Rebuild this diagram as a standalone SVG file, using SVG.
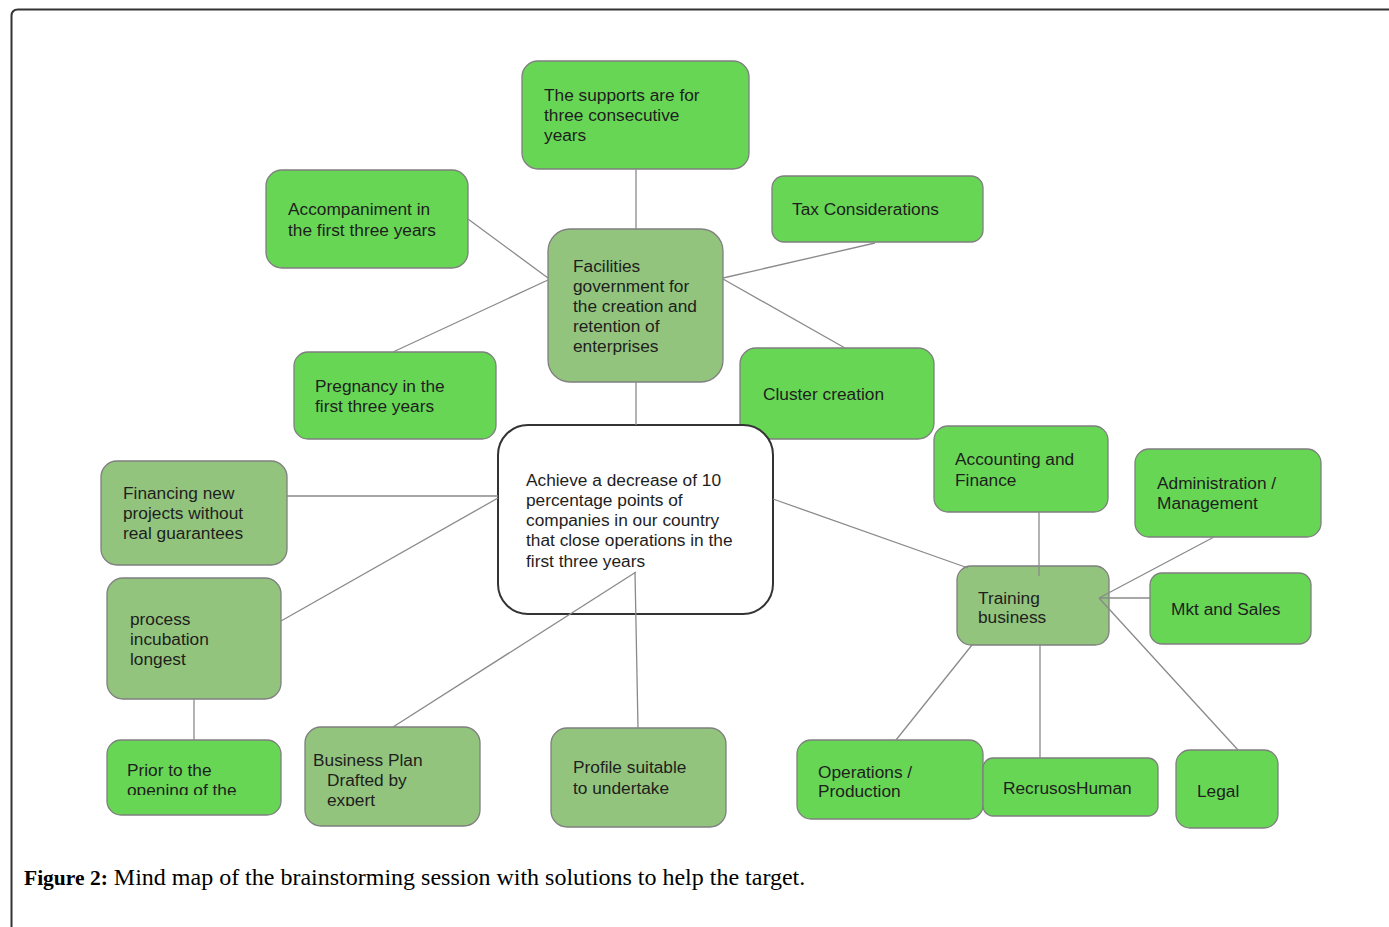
<svg xmlns="http://www.w3.org/2000/svg" width="1389" height="927" viewBox="0 0 1389 927">
<style>
.b{fill:#67d654;stroke:#7f7f7f;stroke-width:1.3}
.d{fill:#93c47d;stroke:#7f7f7f;stroke-width:1.3}
.c{fill:#fff;stroke:#333;stroke-width:2}
text{font-family:"Liberation Sans",Arial,sans-serif;font-size:17.3px;fill:#1e1e1e}
.cap{font-family:"Liberation Serif","Times New Roman",serif;font-size:24px;fill:#000}
#connectors line{stroke:#8a8a8a;stroke-width:1.3}
</style>
<rect width="1389" height="927" fill="#fff"/>
<path d="M11.5 927 V16 Q11.5 9.5 18 9.5 H1389" fill="none" stroke="#333" stroke-width="2"/>
<g id="n-supports"><rect class="b" x="522" y="61" width="227" height="108" rx="16"/><text x="544" y="101">The supports are for</text><text x="544" y="121">three consecutive</text><text x="544" y="141">years</text></g>
<g id="n-accomp"><rect class="b" x="266" y="170" width="202" height="98" rx="16"/><text x="288" y="215">Accompaniment in</text><text x="288" y="236">the first three years</text></g>
<g id="n-tax"><rect class="b" x="772" y="176" width="211" height="66" rx="12"/><text x="792" y="215">Tax Considerations</text></g>
<g id="n-facilities"><rect class="d" x="548" y="229" width="175" height="153" rx="22"/><text x="573" y="272">Facilities</text><text x="573" y="292">government for</text><text x="573" y="312">the creation and</text><text x="573" y="332">retention of</text><text x="573" y="352">enterprises</text></g>
<g id="n-pregnancy"><rect class="b" x="294" y="352" width="202" height="87" rx="14"/><text x="315" y="392">Pregnancy in the</text><text x="315" y="412">first three years</text></g>
<g id="n-cluster"><rect class="b" x="740" y="348" width="194" height="91" rx="16"/><text x="763" y="400">Cluster creation</text></g>
<g id="n-central"><rect class="c" x="498" y="425" width="275" height="189" rx="30"/><text x="526" y="486">Achieve a decrease of 10</text><text x="526" y="506">percentage points of</text><text x="526" y="526">companies in our country</text><text x="526" y="546">that close operations in the</text><text x="526" y="567">first three years</text></g>
<g id="n-financing"><rect class="d" x="101" y="461" width="186" height="104" rx="16"/><text x="123" y="499">Financing new</text><text x="123" y="519">projects without</text><text x="123" y="539">real guarantees</text></g>
<g id="n-process"><rect class="d" x="107" y="578" width="174" height="121" rx="16"/><text x="130" y="625">process</text><text x="130" y="645">incubation</text><text x="130" y="665">longest</text></g>
<g id="n-prior"><clipPath id="cp1"><rect x="107" y="740" width="174" height="55"/></clipPath><rect class="b" x="107" y="740" width="174" height="75" rx="14"/><g clip-path="url(#cp1)"><text x="127" y="776">Prior to the</text><text x="127" y="796">opening of the</text></g></g>
<g id="n-bplan"><clipPath id="cp2"><rect x="305" y="727" width="175" height="79"/></clipPath><rect class="d" x="305" y="727" width="175" height="99" rx="16"/><g clip-path="url(#cp2)"><text x="313" y="766">Business Plan</text><text x="327" y="786">Drafted by</text><text x="327" y="806">expert</text></g></g>
<g id="n-profile"><rect class="d" x="551" y="728" width="175" height="99" rx="16"/><text x="573" y="773">Profile suitable</text><text x="573" y="794">to undertake</text></g>
<g id="n-accounting"><rect class="b" x="934" y="426" width="174" height="86" rx="14"/><text x="955" y="465">Accounting and</text><text x="955" y="486">Finance</text></g>
<g id="n-admin"><rect class="b" x="1135" y="449" width="186" height="88" rx="14"/><text x="1157" y="489">Administration /</text><text x="1157" y="509">Management</text></g>
<g id="n-training"><rect class="d" x="957" y="566" width="152" height="79" rx="14"/><text x="978" y="604">Training</text><text x="978" y="623">business</text></g>
<g id="n-mkt"><rect class="b" x="1150" y="573" width="161" height="71" rx="12"/><text x="1171" y="615">Mkt and Sales</text></g>
<g id="n-ops"><rect class="b" x="797" y="740" width="186" height="79" rx="14"/><text x="818" y="778">Operations /</text><text x="818" y="797">Production</text></g>
<g id="n-rh"><rect class="b" x="983" y="758" width="175" height="58" rx="10"/><text x="1003" y="794">RecrusosHuman</text></g>
<g id="n-legal"><rect class="b" x="1176" y="750" width="102" height="78" rx="14"/><text x="1197" y="797">Legal</text></g>
<g id="connectors">
<line x1="636" y1="169" x2="636" y2="229"/>
<line x1="468" y1="219" x2="548" y2="278"/>
<line x1="393" y1="352" x2="548" y2="280"/>
<line x1="723" y1="278" x2="875" y2="243"/>
<line x1="723" y1="279" x2="845" y2="348"/>
<line x1="636" y1="382" x2="636" y2="425"/>
<line x1="287" y1="496" x2="498" y2="496"/>
<line x1="281" y1="621" x2="498" y2="498"/>
<line x1="194" y1="699" x2="194" y2="740"/>
<line x1="393" y1="727" x2="636" y2="572"/>
<line x1="638" y1="728" x2="635" y2="572"/>
<line x1="773" y1="499" x2="968" y2="568"/>
<line x1="1039" y1="512" x2="1039" y2="576"/>
<line x1="1099" y1="598" x2="1214" y2="537"/>
<line x1="1099" y1="598" x2="1150" y2="598"/>
<line x1="1099" y1="598" x2="1238" y2="750"/>
<line x1="972" y1="645" x2="896" y2="740"/>
<line x1="1040" y1="645" x2="1040" y2="758"/>
</g>
<text class="cap" x="24" y="885"><tspan font-weight="bold" font-size="21.5">Figure 2:</tspan> Mind map of the brainstorming session with solutions to help the target.</text>
</svg>
